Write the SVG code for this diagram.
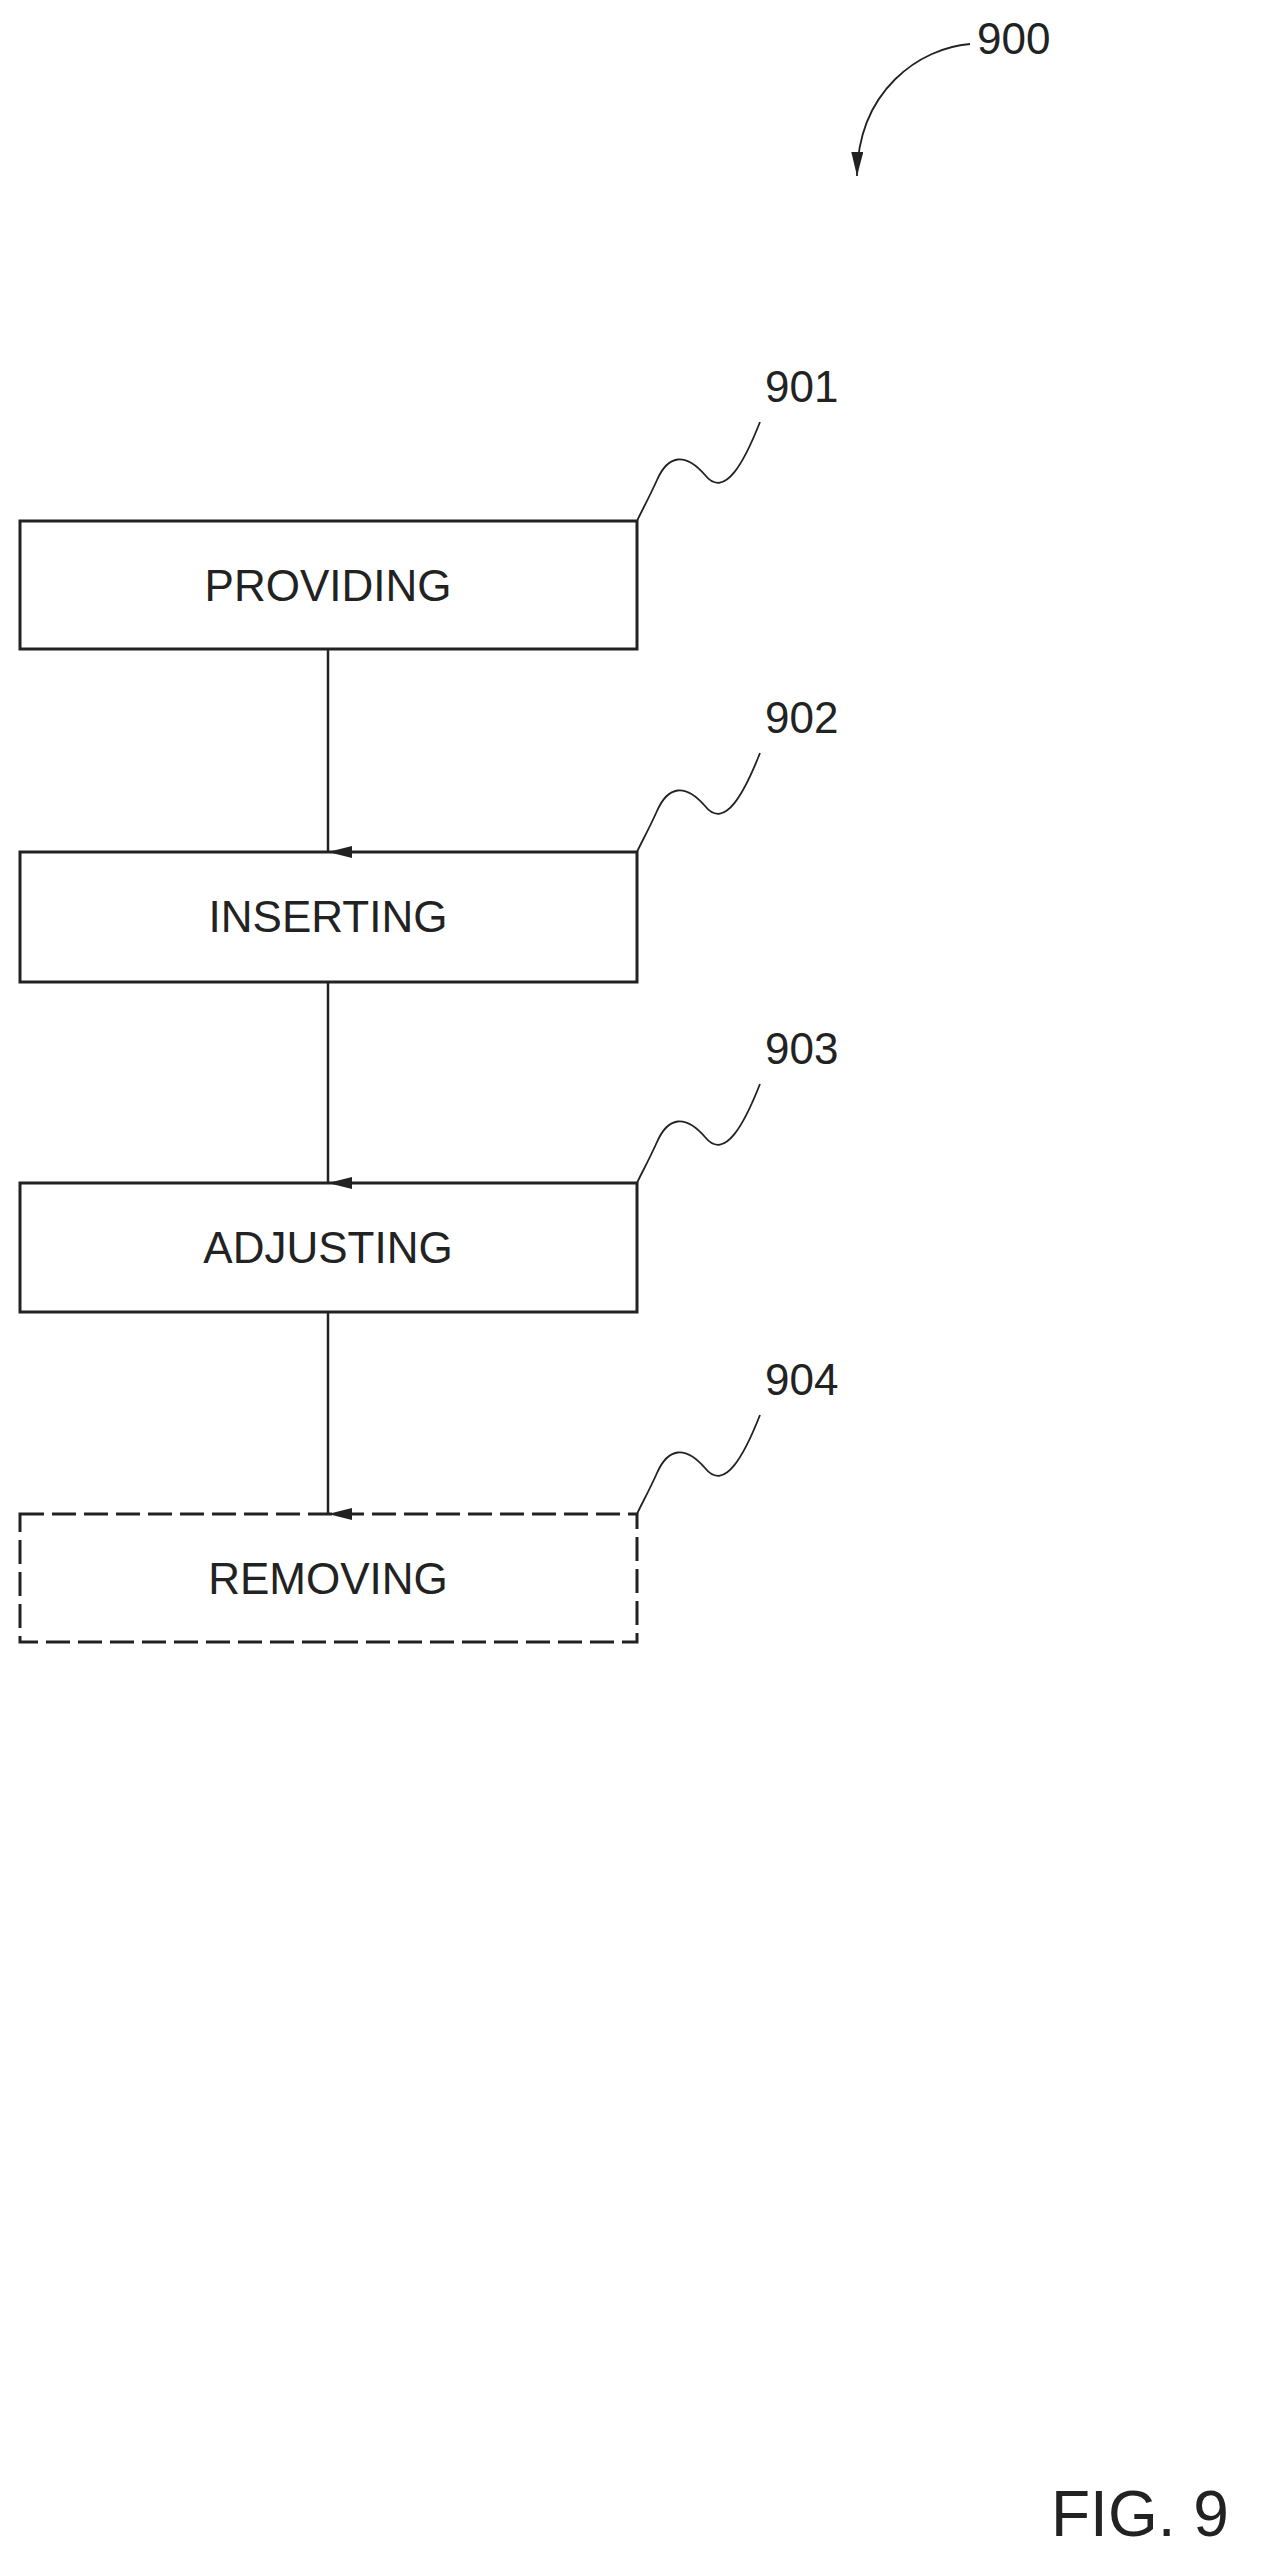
<svg xmlns="http://www.w3.org/2000/svg" width="1278" height="2558" viewBox="0 0 1278 2558">
<style>
.box{fill:none;stroke:#222;stroke-width:3}
.dash{stroke-dasharray:24,8}
.t{font-family:"Liberation Sans",Arial,sans-serif;font-size:44px;fill:#222}
.c{text-anchor:middle}
.ln{fill:none;stroke:#222;stroke-width:2.5}
.ld{fill:none;stroke:#222;stroke-width:1.8}
</style>
<defs>
<marker id="ah" markerWidth="12" markerHeight="24" refX="6" refY="24" orient="auto-start-reverse" markerUnits="userSpaceOnUse" viewBox="0 0 12 24">
<path d="M0,0 L12,0 L6,24 Z" fill="#222"/>
</marker>
<marker id="ah2" markerWidth="24" markerHeight="12" refX="24" refY="6" orient="auto" markerUnits="userSpaceOnUse" viewBox="0 0 24 12">
<path d="M0,0 L24,6 L0,12 Z" fill="#222"/>
</marker>
</defs>
<g id="ref900">
<text class="t" x="977" y="54">900</text>
<path class="ld" d="M970,44 C920,48 858,90 857,176" marker-end="url(#ah2)"/>
</g>
<g id="connectors">
<line class="ln" x1="328" y1="649" x2="328" y2="852" marker-end="url(#ah)"/>
<line class="ln" x1="328" y1="982" x2="328" y2="1183" marker-end="url(#ah)"/>
<line class="ln" x1="328" y1="1312" x2="328" y2="1514" marker-end="url(#ah)"/>
</g>
<g id="n901">
<rect class="box" x="20" y="521" width="617" height="128"/>
<text class="t c" x="328" y="601">PROVIDING</text>
<text class="t" x="765" y="402">901</text>
<path class="ld" d="M760,422 C745,460 725,500 705,475 C685,452 668,455 657,480 C648,500 641,512 637,521"/>
</g>
<g id="n902">
<rect class="box" x="20" y="852" width="617" height="130"/>
<text class="t c" x="328" y="932">INSERTING</text>
<text class="t" x="765" y="733">902</text>
<path class="ld" d="M760,753 C745,791 725,831 705,806 C685,783 668,786 657,811 C648,831 641,843 637,852"/>
</g>
<g id="n903">
<rect class="box" x="20" y="1183" width="617" height="129"/>
<text class="t c" x="328" y="1263">ADJUSTING</text>
<text class="t" x="765" y="1064">903</text>
<path class="ld" d="M760,1084 C745,1122 725,1162 705,1137 C685,1114 668,1117 657,1142 C648,1162 641,1174 637,1183"/>
</g>
<g id="n904">
<rect class="box dash" x="20" y="1514" width="617" height="128"/>
<text class="t c" x="328" y="1594">REMOVING</text>
<text class="t" x="765" y="1395">904</text>
<path class="ld" d="M760,1415 C745,1453 725,1493 705,1468 C685,1445 668,1448 657,1473 C648,1493 641,1505 637,1514"/>
</g>
<text class="t" x="1051" y="2536" style="font-size:64px">FIG. 9</text>
</svg>
